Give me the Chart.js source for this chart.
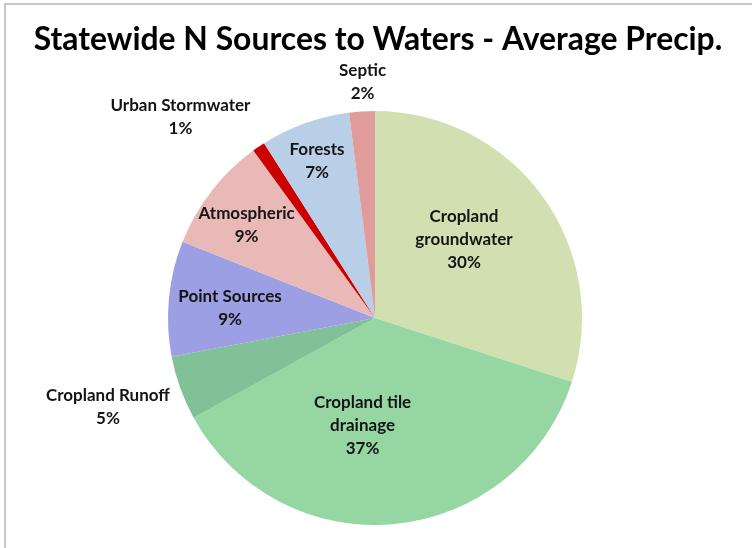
<!DOCTYPE html>
<html>
  <head>
    <script src="https://cdn.jsdelivr.net/npm/chart.js"></script>
    <style>
      body { margin: 0; background: #ffffff; }
    </style>
  </head>

  <body>
    <canvas id="pie" width="752" height="548"></canvas>
  </body>

  <script>
    // slices, clockwise from 12 o'clock
    const categories = [
      "Cropland groundwater",
      "Cropland tile drainage",
      "Cropland Runoff",
      "Point Sources",
      "Atmospheric",
      "Urban Stormwater",
      "Forests",
      "Septic",
    ];
    const percents = [30, 37, 5, 9, 9, 1, 7, 2];
    const labelLines = [
      ["Cropland", "groundwater"],
      ["Cropland tile", "drainage"],
      ["Cropland Runoff"],
      ["Point Sources"],
      ["Atmospheric"],
      ["Urban Stormwater"],
      ["Forests"],
      ["Septic"],
    ];
    const title = "Statewide N Sources to Waters - Average Precip.";

    var colour_list = [
      "#d2e0b1",
      "#95d6a2",
      "#82c197",
      "#9d9fe4",
      "#e9b9b8",
      "#cc0000",
      "#b9cfe7",
      "#e09c9b",
    ];

    // label centre, relative to pie centre, in units of the radius
    var label_pos = [
      [0.43, -0.38],
      [-0.06, 0.52],
      [-1.29, 0.43],
      [-0.7, -0.05],
      [-0.62, -0.45],
      [-0.94, -0.97],
      [-0.28, -0.76],
      [-0.06, -1.14],
    ];

    const labelFont = "bold 17px Lato";
    const lineH = 23;

    const framePlugin = {
      id: "frame",
      beforeDraw(chart) {
        const c = chart.ctx;
        c.save();
        c.fillStyle = "#ffffff";
        c.fillRect(0, 0, chart.width, chart.height);
        c.strokeStyle = "#c8c8c8";
        c.lineWidth = 2;
        c.beginPath();
        c.moveTo(5, chart.height);
        c.lineTo(5, 4);
        c.lineTo(chart.width, 4);
        c.stroke();

        // title, sized to span the same width as the original
        c.fillStyle = "#000000";
        c.textAlign = "center";
        c.textBaseline = "alphabetic";
        let size = 32;
        c.font = `bold ${size}px Lato`;
        const w = c.measureText(title).width;
        size = size * 689 / w;
        c.font = `bold ${size}px Lato`;
        c.fillText(title, 378, 50);
        c.restore();
      },
    };

    const labelPlugin = {
      id: "sliceLabels",
      afterDatasetsDraw(chart) {
        const c = chart.ctx;
        const meta = chart.getDatasetMeta(0);
        c.save();
        c.font = labelFont;
        c.fillStyle = "#141414";
        c.textAlign = "center";
        c.textBaseline = "middle";
        meta.data.forEach((arc, i) => {
          const r = arc.outerRadius;
          const cx = arc.x + label_pos[i][0] * r;
          const cy = arc.y + label_pos[i][1] * r;
          const lines = labelLines[i].concat([percents[i] + "%"]);
          const top = cy - ((lines.length - 1) * lineH) / 2;
          lines.forEach((t, k) => c.fillText(t, cx, top + k * lineH));
        });
        c.restore();
      },
    };

    const ctx = document.getElementById("pie").getContext("2d");

    const chart = new Chart(ctx, {
      type: "pie",
      data: {
        labels: categories,
        datasets: [
          {
            data: percents,
            backgroundColor: colour_list,
            borderWidth: 0,
          },
        ],
      },
      options: {
        responsive: false,
        animation: false,
        layout: {
          padding: { top: 111, bottom: 23, left: 168, right: 170 },
        },
        plugins: {
          legend: { display: false },
          title: { display: false },
          tooltip: { enabled: false },
        },
      },
      plugins: [framePlugin, labelPlugin],
    });
  </script>
</html>
